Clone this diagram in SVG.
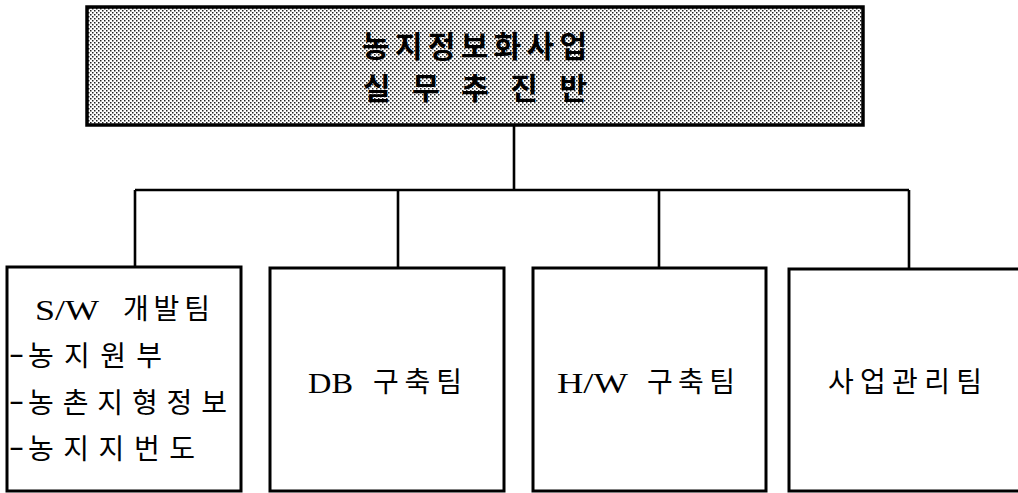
<svg xmlns="http://www.w3.org/2000/svg" width="1018" height="493" viewBox="0 0 1018 493">
<style>
.box{fill:#fff;stroke:#000;stroke-width:3}
.conn{fill:none;stroke:#000;stroke-width:2.6}
.t{font-family:"Liberation Serif","Noto Sans CJK KR",serif;font-size:30px;fill:#000}
.k{font-family:"Noto Sans CJK KR",sans-serif;font-size:28px;fill:#000}
.h{font-family:"Noto Sans CJK KR",sans-serif;font-size:30px;font-weight:bold;fill:#000}
</style>
<defs>
<pattern id="dots" patternUnits="userSpaceOnUse" width="4" height="4">
<rect width="4" height="4" fill="#fff"/>
<rect x="0" y="0" width="1.5" height="1.5" fill="#222"/>
<rect x="2" y="2" width="1.5" height="1.5" fill="#222"/>
</pattern>
</defs>
<g id="connectors">
<path class="conn" d="M514 125 V190 M135 190 H909 M135 190 V267 M398 190 V267 M659 190 V268 M909 190 V269"/>
</g>
<g id="top">
<rect x="87" y="7" width="776" height="118" fill="url(#dots)" stroke="#000" stroke-width="3.5"/>
<text class="h" x="362" y="57" textLength="225" lengthAdjust="spacing">농지정보화사업</text>
<text class="h" x="363" y="99" textLength="224" lengthAdjust="spacing">실 무 추 진 반</text>
</g>
<g id="sw">
<rect class="box" x="7" y="267" width="234" height="224"/>
<text class="t" x="35" y="320" textLength="64" lengthAdjust="spacingAndGlyphs">S/W</text>
<text class="k" x="123" y="319" textLength="87" lengthAdjust="spacing">개발팀</text>
<text class="t" x="9" y="363" textLength="15" lengthAdjust="spacingAndGlyphs">-</text>
<text class="k" x="28" y="366" textLength="134" lengthAdjust="spacing">농지원부</text>
<text class="t" x="9" y="410" textLength="15" lengthAdjust="spacingAndGlyphs">-</text>
<text class="k" x="28" y="413" textLength="199" lengthAdjust="spacing">농촌지형정보</text>
<text class="t" x="9" y="456" textLength="15" lengthAdjust="spacingAndGlyphs">-</text>
<text class="k" x="28" y="459" textLength="167" lengthAdjust="spacing">농지지번도</text>
</g>
<g id="db">
<rect class="box" x="270" y="268" width="234" height="223"/>
<text class="t" x="308" y="393" textLength="45" lengthAdjust="spacingAndGlyphs">DB</text>
<text class="k" x="373" y="392" textLength="89" lengthAdjust="spacing">구축팀</text>
</g>
<g id="hw">
<rect class="box" x="533" y="268" width="233" height="223"/>
<text class="t" x="557" y="393" textLength="71" lengthAdjust="spacingAndGlyphs">H/W</text>
<text class="k" x="647" y="392" textLength="88" lengthAdjust="spacing">구축팀</text>
</g>
<g id="mgmt">
<rect class="box" x="789" y="269" width="233" height="222"/>
<text class="k" x="828" y="392" textLength="154" lengthAdjust="spacing">사업관리팀</text>
</g>
</svg>
